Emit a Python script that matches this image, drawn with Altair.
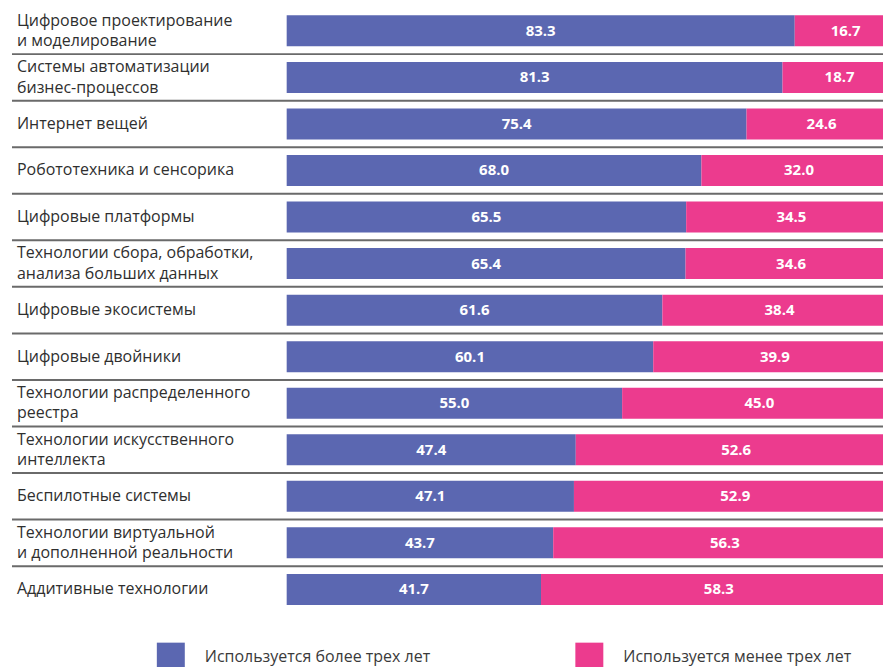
import altair as alt
import pandas as pd

categories = [
    "Цифровое проектирование\nи моделирование",
    "Системы автоматизации\nбизнес-процессов",
    "Интернет вещей",
    "Робототехника и сенсорика",
    "Цифровые платформы",
    "Технологии сбора, обработки,\nанализа больших данных",
    "Цифровые экосистемы",
    "Цифровые двойники",
    "Технологии распределенного\nреестра",
    "Технологии искусственного\nинтеллекта",
    "Беспилотные системы",
    "Технологии виртуальной\nи дополненной реальности",
    "Аддитивные технологии",
]
more_than_3 = [83.3, 81.3, 75.4, 68.0, 65.5, 65.4, 61.6, 60.1, 55.0, 47.4, 47.1, 43.7, 41.7]
less_than_3 = [16.7, 18.7, 24.6, 32.0, 34.5, 34.6, 38.4, 39.9, 45.0, 52.6, 52.9, 56.3, 58.3]
series_names = ["Используется более трех лет", "Используется менее трех лет"]
colors = ["#5b67b1", "#ec3b8e"]

FONT = "Open Sans"
ROW_PX = 46.6
LINE_PX = 20.5

rows = []
for i, c in enumerate(categories):
    a, b = more_than_3[i], less_than_3[i]
    rows.append({"idx": i, "series": series_names[0], "value": a, "x0": 0.0, "x1": a})
    rows.append({"idx": i, "series": series_names[1], "value": b, "x0": a, "x1": a + b})
df = pd.DataFrame(rows)

label_rows = []
for i, c in enumerate(categories):
    lines = c.split("\n")
    n = len(lines)
    for k, line in enumerate(lines):
        label_rows.append({"ypos": i + (k - (n - 1) / 2) * LINE_PX / ROW_PX, "line": line})
lab_df = pd.DataFrame(label_rows)
sep_df = pd.DataFrame({"idx": list(range(len(categories) - 1))})

yscale = alt.Scale(domain=[0, 12], range=[22.5, 22.5 + 12 * ROW_PX])
xscale = alt.Scale(domain=[0, 100], range=[279, 889.6])

base = alt.Chart(df).transform_calculate(
    ytop="datum.idx - 0.333", ybot="datum.idx + 0.333", xmid="(datum.x0 + datum.x1) / 2"
)

bars = base.mark_bar(clip=True).encode(
    x=alt.X("x0:Q", scale=xscale, axis=None),
    x2="x1:Q",
    y=alt.Y("ytop:Q", scale=yscale, axis=None),
    y2="ybot:Q",
    color=alt.Color(
        "series:N",
        scale=alt.Scale(domain=series_names, range=colors),
        legend=alt.Legend(
            title=None,
            orient="none",
            legendX=149,
            legendY=635,
            direction="horizontal",
            symbolType="square",
            symbolSize=784,
            symbolStrokeWidth=0,
            symbolOpacity=1,
            labelFont=FONT,
            labelFontSize=16,
            labelColor="#3a3a3a",
            labelOffset=20,
            labelLimit=400,
            columnPadding=145,
        ),
    ),
)

values = base.mark_text(
    font=FONT, fontSize=15, fontWeight="bold", color="white", baseline="middle", align="center"
).encode(
    x=alt.X("xmid:Q", scale=xscale, axis=None),
    y=alt.Y("idx:Q", scale=yscale, axis=None),
    text=alt.Text("value:Q", format=".1f"),
)

labels = alt.Chart(lab_df).mark_text(
    font=FONT, fontSize=16, color="#2f2f2f", align="left", baseline="middle",
).encode(
    x=alt.value(9),
    y=alt.Y("ypos:Q", scale=yscale, axis=None),
    text="line:N",
)

seps = alt.Chart(sep_df).transform_calculate(ysep="datum.idx + 0.5").mark_rule(
    color="#6a6a6a", strokeWidth=2
).encode(
    x=alt.value(4),
    x2=alt.value(876),
    y=alt.Y("ysep:Q", scale=yscale, axis=None),
)

chart = alt.layer(seps, bars, values, labels).properties(
    width=876, height=659, padding=0
).configure_view(stroke=None)

chart.save("out.html", embed_options={"renderer": "svg", "actions": False})
